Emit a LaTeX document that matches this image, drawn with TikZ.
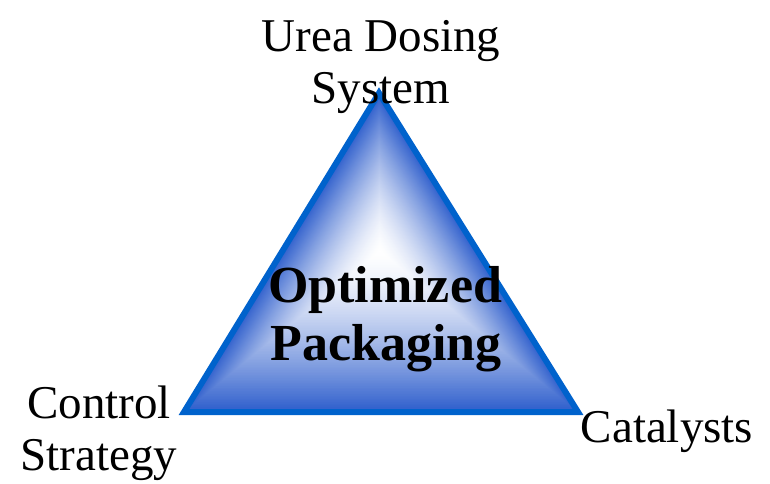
\documentclass[tikz,border=0pt]{standalone}
\usepackage{fontspec}
\setmainfont{Liberation Serif}
\usetikzlibrary{calc}
\definecolor{triblue}{RGB}{46,94,204}
\definecolor{edgeblue}{RGB}{0,98,204}
\tikzset{
  lbl/.style={inner sep=0pt, anchor=base, font=\fontsize{47}{52}\selectfont},
  mid/.style={inner sep=0pt, anchor=base, font=\fontsize{52}{60}\selectfont\bfseries}
}
\begin{document}
\begin{tikzpicture}[x=1pt,y=1pt]
  \useasboundingbox (0,0) rectangle (770,483);
  % corners of the triangle and the centre of its glow
  \coordinate (apex) at (379,390);
  \coordinate (bl) at (184,71);
  \coordinate (br) at (578,71);
  \coordinate (ctr) at (380,232);
  % shape-following glow: nested triangles shrinking towards the centre
  \foreach \i in {0,...,99}{
    \pgfmathsetmacro\s{1-\i/100}
    \pgfmathsetmacro\pct{100*pow(\s,1.5)}
    \fill[triblue!\pct!white]
      ($(ctr)!\s!(apex)$) -- ($(ctr)!\s!(bl)$) -- ($(ctr)!\s!(br)$) -- cycle;
  }
  \draw[edgeblue, line width=6pt, line join=miter] (apex) -- (bl) -- (br) -- cycle;
  % labels
  \node[lbl] (urea) at (381,431) {Urea Dosing};
  \node[lbl] (system) at (381,380) {System};
  \node[lbl] (control) at (99,65) {Control};
  \node[lbl] (strategy) at (99,13) {Strategy};
  \node[lbl] (cat) at (667,41) {Catalysts};
  \node[mid] (opt) at (385,181) {Optimized};
  \node[mid] (pack) at (386,123) {Packaging};
\end{tikzpicture}
\end{document}
